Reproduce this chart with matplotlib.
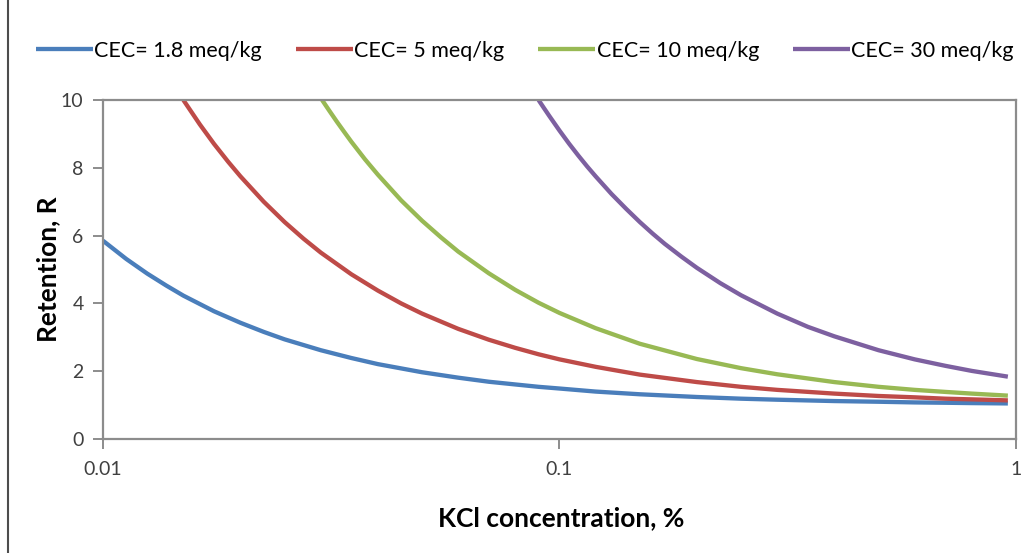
import matplotlib
matplotlib.use('Agg')
import matplotlib.pyplot as plt
from matplotlib.ticker import FixedLocator, FixedFormatter, NullLocator
from matplotlib.lines import Line2D

# Concentração de KCl (%) e retenção R para cada CEC
x_cec_1_8 = [0.01, 0.01125, 0.0125, 0.01375, 0.015, 0.0175, 0.02, 0.0225, 0.025, 0.03, 0.035,
             0.04, 0.05, 0.06, 0.07, 0.08, 0.09, 0.1, 0.12, 0.15, 0.2, 0.25, 0.3, 0.4, 0.5,
             0.6, 0.7, 0.8, 0.96]
r_cec_1_8 = [5.85, 5.31, 4.88, 4.53, 4.23, 3.77, 3.43, 3.16, 2.94, 2.62, 2.39,
             2.21, 1.97, 1.81, 1.69, 1.61, 1.54, 1.49, 1.40, 1.32, 1.24, 1.19, 1.16, 1.12, 1.10,
             1.08, 1.07, 1.06, 1.05]

x_cec_5 = [0.015, 0.0163, 0.0175, 0.0188, 0.02, 0.0225, 0.025, 0.0275, 0.03, 0.035, 0.04, 0.045,
           0.05, 0.06, 0.07, 0.08, 0.09, 0.1, 0.12, 0.15, 0.2, 0.25, 0.3, 0.4, 0.5, 0.6,
           0.7, 0.8, 0.96]
r_cec_5 = [10.0, 9.28, 8.71, 8.18, 7.75, 7.00, 6.40, 5.91, 5.50, 4.86, 4.38, 4.00,
           3.70, 3.25, 2.93, 2.69, 2.50, 2.35, 2.13, 1.90, 1.68, 1.54, 1.45, 1.34, 1.27, 1.23,
           1.19, 1.17, 1.14]

x_cec_10 = [0.0302, 0.0313, 0.0325, 0.0338, 0.035, 0.0375, 0.04, 0.045, 0.05, 0.055, 0.06, 0.07,
            0.08, 0.09, 0.1, 0.12, 0.15, 0.2, 0.25, 0.3, 0.4, 0.5, 0.6, 0.7, 0.8, 0.96]
r_cec_10 = [10.0, 9.69, 9.37, 9.05, 8.77, 8.25, 7.80, 7.04, 6.44, 5.95, 5.53, 4.89,
            4.40, 4.02, 3.72, 3.27, 2.81, 2.36, 2.09, 1.91, 1.68, 1.54, 1.45, 1.39, 1.34, 1.28]

x_cec_30 = [0.09, 0.0925, 0.095, 0.1, 0.105, 0.11, 0.115, 0.12, 0.13, 0.14, 0.15, 0.16, 0.17,
            0.185, 0.2, 0.225, 0.25, 0.3, 0.35, 0.4, 0.5, 0.6, 0.7, 0.8, 0.96]
r_cec_30 = [10.0, 9.76, 9.53, 9.10, 8.71, 8.36, 8.04, 7.75, 7.23, 6.79, 6.40, 6.06, 5.76,
            5.38, 5.05, 4.60, 4.24, 3.70, 3.31, 3.03, 2.62, 2.35, 2.16, 2.01, 1.84]

series_labels = ['CEC= 1.8 meq/kg', 'CEC= 5 meq/kg', 'CEC= 10 meq/kg', 'CEC= 30 meq/kg']
series_colors = ['#4A7EBB', '#BE4B48', '#98B954', '#7D60A0']

x_ticks = [0.01, 0.1, 1]
x_tick_labels = ['0.01', '0.1', '1']
y_ticks = [0, 2, 4, 6, 8, 10]

plt.rcParams['font.family'] = ['Lato', 'DejaVu Sans']

fig = plt.figure(figsize=(10.33, 5.53), dpi=100)
ax = fig.add_axes([0.0997, 0.2061, 0.8838, 0.613])

curves = [(x_cec_1_8, r_cec_1_8), (x_cec_5, r_cec_5), (x_cec_10, r_cec_10), (x_cec_30, r_cec_30)]
for (xs, ys), label, color in zip(curves, series_labels, series_colors):
    ax.plot(xs, ys, color=color, lw=3.1, label=label, solid_capstyle='butt')

ax.set_xscale('log')
ax.set_xlim(0.01, 1)
ax.set_ylim(0, 10)

ax.xaxis.set_major_locator(FixedLocator(x_ticks))
ax.xaxis.set_major_formatter(FixedFormatter(x_tick_labels))
ax.xaxis.set_minor_locator(NullLocator())
ax.set_yticks(y_ticks)

axis_gray = '#8C8C8C'
for side in ['left', 'bottom', 'top', 'right']:
    ax.spines[side].set_color(axis_gray)
    ax.spines[side].set_linewidth(1.6)
ax.tick_params(axis='both', which='major', direction='out', length=7, width=1.4,
               color=axis_gray, labelsize=14, labelcolor='#404040')
ax.tick_params(axis='x', pad=9)
ax.tick_params(axis='y', pad=7)

ax.set_xlabel('KCl concentration, %', fontsize=19, fontweight='bold', va='center')
ax.set_ylabel('Retention, R', fontsize=19, fontweight='bold', va='center')
ax.xaxis.set_label_coords(0.502, -0.233)
ax.yaxis.set_label_coords(-0.060, 0.50)

fig.legend(loc='center', bbox_to_anchor=(0.508, 0.908), ncol=4, frameon=False,
           fontsize=15.5, handlelength=2.65, handletextpad=0.05, columnspacing=1.6)

# Moldura esquerda do gráfico
fig.add_artist(Line2D([8 / 1033, 8 / 1033], [0, 1], transform=fig.transFigure,
                      color='#4D4D4D', lw=1.5))

plt.savefig('out.png', dpi=100)
